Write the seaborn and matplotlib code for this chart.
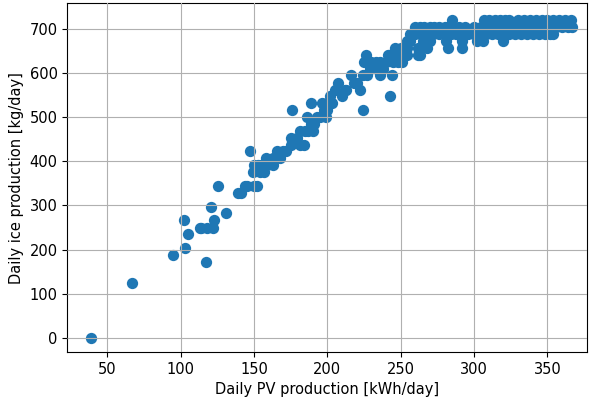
import numpy as np
import pandas as pd
import matplotlib
matplotlib.use('Agg')
import matplotlib.pyplot as plt
import seaborn as sns

# Valores
pv_low = [39, 67, 95, 103, 102, 105, 113, 117, 114, 118, 122, 123, 121, 131, 125.5,
          139, 141, 144, 145, 150, 147, 149, 153, 152, 150, 154, 155, 157, 158, 159]
ice_low = [0, 125, 188, 203, 266, 235, 250, 172, 250, 250, 250, 266, 297, 282, 344,
           329, 329, 344, 344, 344, 423, 376, 391, 344, 391, 376, 391, 376, 407, 391]

pv_mid = [163, 163, 166, 165, 168, 170, 172, 175, 175, 179, 176, 181, 181, 184, 185,
          187, 189, 190, 186, 189, 191, 193, 195, 196, 198, 200, 200, 199, 202, 203,
          205, 207, 210, 212, 213, 216, 218, 220, 222, 224, 224, 226, 225, 227, 229,
          230, 233, 234, 236, 236, 238, 240, 242, 243, 244, 245, 247, 246, 248, 250,
          251, 249, 241, 246]
ice_mid = [391, 407, 423, 407, 407, 423, 423, 438, 454, 454, 516, 438, 470, 438, 470,
           470, 485, 470, 501, 532, 485, 501, 501, 532, 516, 532, 516, 501, 548, 532,
           563, 579, 548, 563, 563, 595, 579, 579, 563, 595, 516, 642, 626, 595, 610,
           626, 626, 610, 595, 626, 610, 626, 642, 548, 595, 626, 642, 657, 626, 657,
           626, 642, 642, 642]

pv_high = [254, 256, 265, 270, 281, 292, 302, 306, 320,
           254, 262, 268, 282, 292,
           254, 262, 263,
           256, 260, 264, 268, 272, 276, 280, 284, 288, 292, 296, 300, 304, 308, 312,
           316, 320, 324, 328, 332, 336, 340, 344, 348, 352, 354,
           260, 263, 266, 270, 273, 276, 280, 282, 286, 290, 294, 300, 305, 308, 312,
           316, 320, 324, 328, 332, 336, 340, 344, 348, 352, 356, 360, 364, 367,
           285, 307, 310, 314, 318, 321, 324, 330, 334, 338, 342, 346, 350, 354, 358,
           362, 366]
ice_high = [673, 673, 673, 673, 673, 673, 673, 673, 673,
            657, 657, 657, 657, 657,
            642, 642, 642,
            689, 689, 689, 689, 689, 689, 689, 689, 689, 689, 689, 689, 689, 689, 689,
            689, 689, 689, 689, 689, 689, 689, 689, 689, 689, 689,
            704, 704, 704, 704, 704, 704, 704, 704, 704, 704, 704, 704, 704, 704, 704,
            704, 704, 704, 704, 704, 704, 704, 704, 704, 704, 704, 704, 704, 704,
            720, 720, 720, 720, 720, 720, 720, 720, 720, 720, 720, 720, 720, 720, 720,
            720, 720]

df = pd.DataFrame({'pv': pv_low + pv_mid + pv_high,
                   'ice': ice_low + ice_mid + ice_high})

plt.rcParams['font.size'] = 10.5

fig, ax = plt.subplots(figsize=(5.9, 4.01), dpi=100)
fig.subplots_adjust(left=0.114, right=0.995, bottom=0.122, top=0.992)

sns.scatterplot(x='pv', y='ice', data=df, ax=ax, s=66, color='#1f77b4',
                linewidth=0, alpha=1)
ax.grid(True)
ax.set_axisbelow(False)
ax.set_xlim(22.7, 377)
ax.set_ylim(-32.7, 759)
ax.set_xticks([50, 100, 150, 200, 250, 300, 350])
ax.set_yticks([0, 100, 200, 300, 400, 500, 600, 700])
ax.set_xlabel('Daily PV production [kWh/day]')
ax.set_ylabel('Daily ice production [kg/day]')

plt.savefig('out.png', dpi=100)
